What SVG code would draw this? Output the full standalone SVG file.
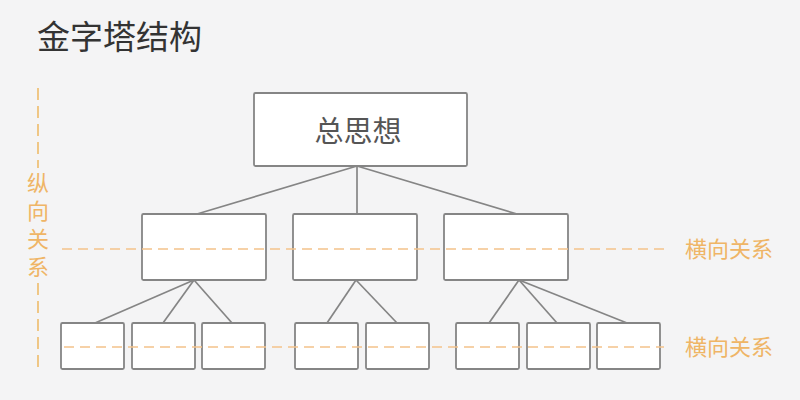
<svg xmlns="http://www.w3.org/2000/svg" width="800" height="400" viewBox="0 0 800 400">
<style>
.box{fill:#ffffff;stroke:#858585;stroke-width:1.8}
.conn{stroke:#858585;stroke-width:1.7;fill:none}
.dash{stroke:#f3c28a;stroke-width:1.6;stroke-dasharray:10 6;fill:none}
.vdash{stroke:#efc27a;stroke-width:1.8;stroke-dasharray:12 6;fill:none}
.lbl{font-family:"Noto Sans CJK SC","Noto Sans",sans-serif;fill:#efb566;font-size:22px}
.vlbl{font-family:"Noto Sans CJK SC","Noto Sans",sans-serif;fill:#efb566;font-size:22px;writing-mode:vertical-rl;letter-spacing:6px}
.title{font-family:"Noto Sans CJK SC","Noto Sans",sans-serif;fill:#333333;font-size:33px}
.main{font-family:"Noto Sans CJK SC","Noto Sans",sans-serif;fill:#555555;font-size:29px}
</style>
<rect width="800" height="400" fill="#f4f4f5"/>
<text class="title" x="37" y="49">金字塔结构</text>

<g id="connectors">
<line class="conn" x1="357" y1="166" x2="197" y2="214"/>
<line class="conn" x1="357" y1="166" x2="357" y2="214"/>
<line class="conn" x1="357" y1="166" x2="517" y2="214"/>
<line class="conn" x1="194" y1="280" x2="95" y2="323"/>
<line class="conn" x1="194" y1="280" x2="163" y2="323"/>
<line class="conn" x1="194" y1="280" x2="232" y2="323"/>
<line class="conn" x1="356" y1="280" x2="327" y2="323"/>
<line class="conn" x1="356" y1="280" x2="397" y2="323"/>
<line class="conn" x1="519" y1="280" x2="489" y2="323"/>
<line class="conn" x1="519" y1="280" x2="557" y2="323"/>
<line class="conn" x1="519" y1="280" x2="627" y2="323"/>
</g>

<g id="root"><rect class="box" x="254" y="93" width="213" height="73" rx="1.5"/>
<text class="main" x="358" y="142" text-anchor="middle">总思想</text></g>
<g id="m1"><rect class="box" x="142" y="214" width="124" height="66" rx="1.5"/></g>
<g id="m2"><rect class="box" x="293" y="214" width="124" height="66" rx="1.5"/></g>
<g id="m3"><rect class="box" x="444" y="214" width="124" height="66" rx="1.5"/></g>
<g id="b1"><rect class="box" x="61" y="323" width="63" height="46" rx="1.5"/></g>
<g id="b2"><rect class="box" x="132" y="323" width="63" height="46" rx="1.5"/></g>
<g id="b3"><rect class="box" x="202" y="323" width="63" height="46" rx="1.5"/></g>
<g id="b4"><rect class="box" x="295" y="323" width="63" height="46" rx="1.5"/></g>
<g id="b5"><rect class="box" x="366" y="323" width="63" height="46" rx="1.5"/></g>
<g id="b6"><rect class="box" x="456" y="323" width="63" height="46" rx="1.5"/></g>
<g id="b7"><rect class="box" x="527" y="323" width="63" height="46" rx="1.5"/></g>
<g id="b8"><rect class="box" x="597" y="323" width="63" height="46" rx="1.5"/></g>

<g id="guides">
<line class="dash" x1="62" y1="249" x2="664" y2="249"/>
<line class="dash" x1="64" y1="347" x2="664" y2="347"/>
<line class="vdash" x1="38" y1="88" x2="38" y2="168"/>
<line class="vdash" x1="38" y1="283" x2="38" y2="367"/>
</g>
<g id="labels">
<text class="lbl" x="685" y="257">横向关系</text>
<text class="lbl" x="685" y="355">横向关系</text>
<text class="vlbl" x="38" y="172">纵向关系</text>
</g>
</svg>
